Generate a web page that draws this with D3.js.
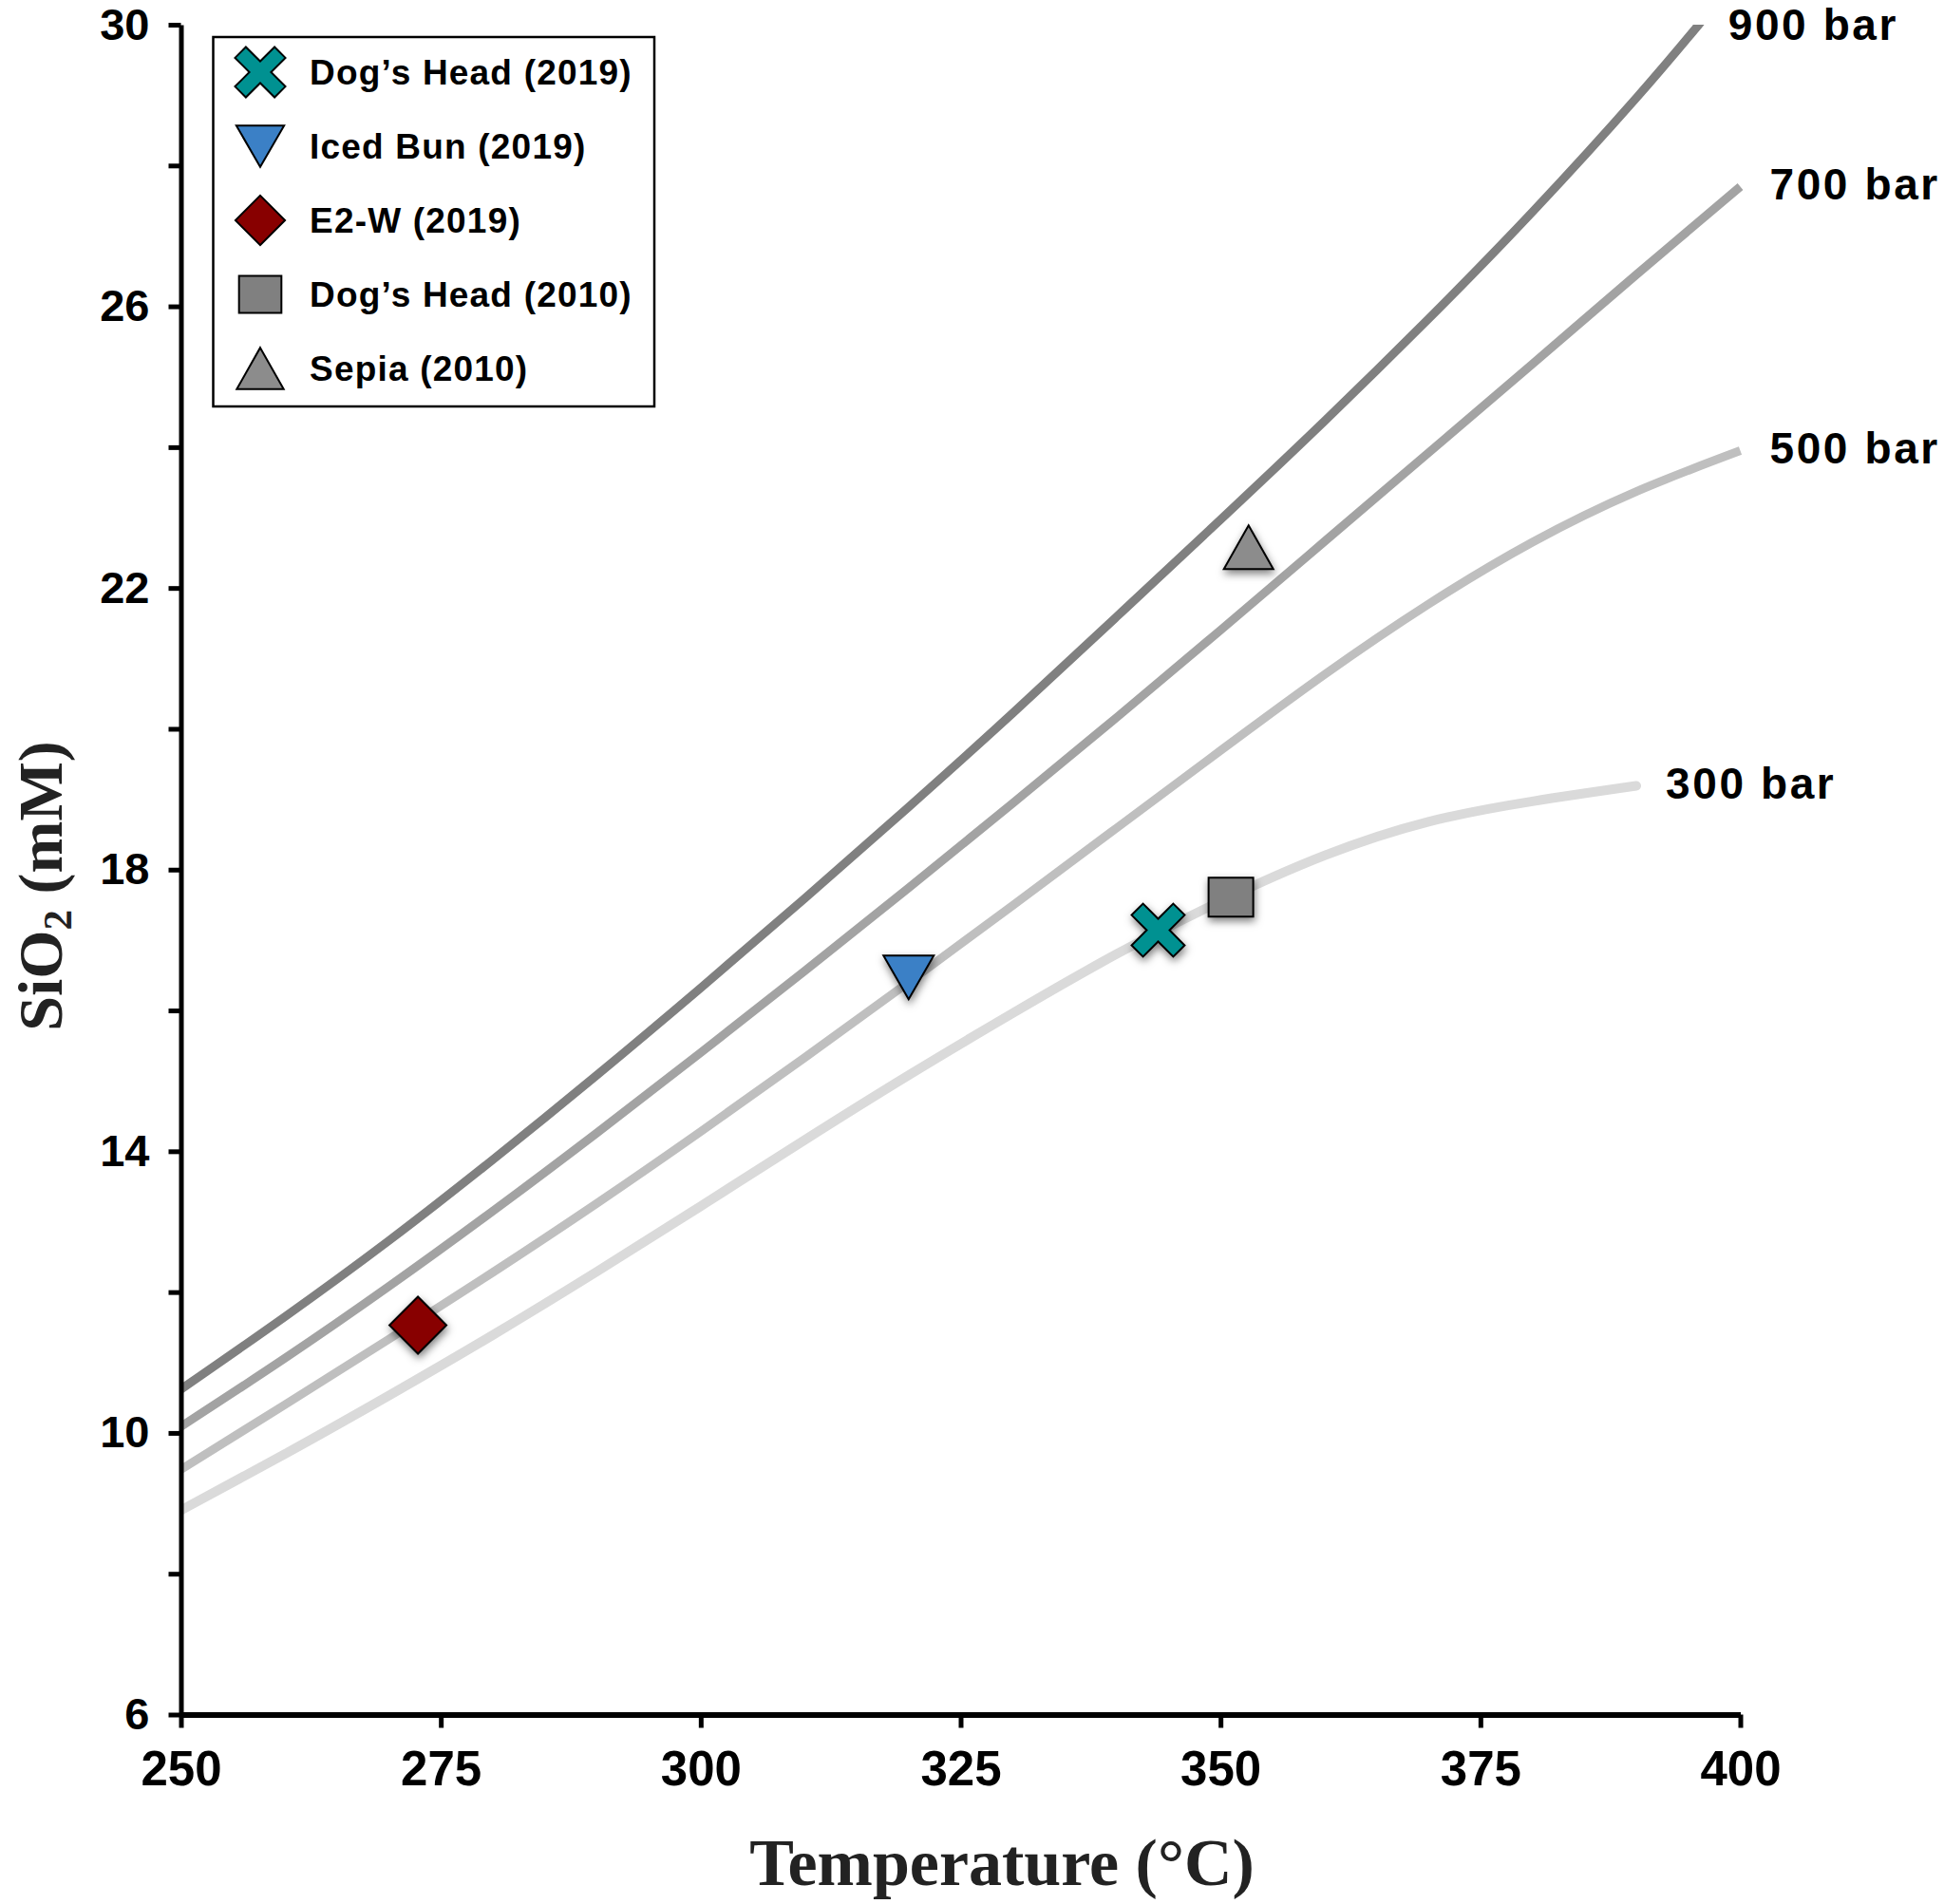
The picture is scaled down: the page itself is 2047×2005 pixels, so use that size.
<!DOCTYPE html>
<html>
<head>
<meta charset="utf-8">
<script src="https://cdn.jsdelivr.net/npm/d3@7"></script>
<style>
  body { margin: 0; background: #fff; }
  svg { display: block; }
</style>
</head>
<body>
<svg id="chart" width="2047" height="2005"></svg>
<script>
// ---- data ----
var xTicks = [250, 275, 300, 325, 350, 375, 400];
var yTicks = [6, 8, 10, 12, 14, 16, 18, 20, 22, 24, 26, 28, 30];
var yTickLabels = [6, 10, 14, 18, 22, 26, 30];

// quartz solubility curves (temperature, SiO2 mM)
var temp900 = [250, 260, 270, 280, 290, 300, 310, 320, 330, 340, 350, 360, 370, 380, 390, 396, 398];
var sio2_900 = [10.62, 11.65, 12.73, 13.88, 15.08, 16.32, 17.59, 18.89, 20.22, 21.59, 22.97, 24.37, 25.82, 27.34, 28.96, 30.0, 30.35];
var temp700 = [250, 260, 270, 280, 290, 300, 310, 320, 330, 340, 350, 360, 370, 380, 390, 400];
var sio2_700 = [10.09, 11.06, 12.08, 13.15, 14.26, 15.4, 16.56, 17.74, 18.94, 20.16, 21.4, 22.66, 23.92, 25.18, 26.45, 27.7];
var temp500 = [250, 260, 270, 280, 290, 300, 310, 320, 330, 340, 350, 360, 370, 380, 390, 400];
var sio2_500 = [9.48, 10.4, 11.33, 12.28, 13.26, 14.28, 15.33, 16.4, 17.49, 18.59, 19.69, 20.77, 21.77, 22.65, 23.37, 23.95];
var temp300 = [250, 260, 270, 280, 290, 300, 310, 320, 330, 340, 350, 360, 370, 380, 390];
var sio2_300 = [8.9, 9.7, 10.53, 11.39, 12.29, 13.22, 14.16, 15.08, 15.96, 16.8, 17.55, 18.2, 18.68, 18.97, 19.19];
var curveNames = ["900 bar", "700 bar", "500 bar", "300 bar"];

// vent fluids
var siteNames = ["Dog\u2019s Head (2019)", "Iced Bun (2019)", "E2-W (2019)", "Dog\u2019s Head (2010)", "Sepia (2010)"];
var siteTemp = [344, 320, 272.8, 351, 352.7];
var siteSiO2 = [17.14, 16.47, 11.53, 17.61, 22.58];

// ---- styles ----
var curveColors = ["#808080", "#a3a3a3", "#bfbfbf", "#dadada"];
var siteShapes = ["x", "tridown", "diamond", "square", "triup"];
var siteColors = ["#009191", "#3b80c6", "#880000", "#808080", "#8c8c8c"];
var sansBold = "'Liberation Sans', Arial, Helvetica, sans-serif";
var serif = "'Liberation Serif', 'Times New Roman', serif";

var svg = d3.select("#chart");

var x = d3.scaleLinear().domain([250, 400]).range([190.5, 1832.5]);
var y = d3.scaleLinear().domain([6, 30]).range([1805.5, 26]);

// drop shadow for the plotted symbols
var defs = svg.append("defs");
defs.append("filter").attr("id", "shadow")
  .attr("x", "-50%").attr("y", "-50%").attr("width", "200%").attr("height", "200%")
  .append("feDropShadow")
  .attr("dx", 1).attr("dy", 4).attr("stdDeviation", 4.5)
  .attr("flood-color", "#000").attr("flood-opacity", 0.5);
defs.append("clipPath").attr("id", "plotClip")
  .append("rect")
  .attr("x", x(250)).attr("y", y(30))
  .attr("width", x(400) - x(250) + 40).attr("height", y(6) - y(30));

// symbol paths, centred on 0,0
function shapePath(kind, s) {
  var pts;
  if (kind === "x") {
    var a = 8.5 * s, L = 31 * s, c = Math.SQRT1_2;
    var plus = [[-a,-L],[a,-L],[a,-a],[L,-a],[L,a],[a,a],[a,L],[-a,L],[-a,a],[-L,a],[-L,-a],[-a,-a]];
    pts = plus.map(function(p) { return [(p[0] - p[1]) * c, (p[0] + p[1]) * c]; });
  } else if (kind === "tridown") {
    pts = [[-26.5*s,-23*s],[26.5*s,-23*s],[0,23*s]];
  } else if (kind === "triup") {
    pts = [[0,-23*s],[26*s,23*s],[-26*s,23*s]];
  } else if (kind === "diamond") {
    pts = [[0,-30*s],[30*s,0],[0,30*s],[-30*s,0]];
  } else {
    pts = [[-23.5*s,-20.5*s],[23.5*s,-20.5*s],[23.5*s,20.5*s],[-23.5*s,20.5*s]];
  }
  return "M" + pts.map(function(p) { return p[0].toFixed(2) + "," + p[1].toFixed(2); }).join("L") + "Z";
}

// ---- curves ----
var curves = [
  {name: curveNames[0], t: temp900, s: sio2_900},
  {name: curveNames[1], t: temp700, s: sio2_700},
  {name: curveNames[2], t: temp500, s: sio2_500},
  {name: curveNames[3], t: temp300, s: sio2_300}
];

var line = d3.line()
  .x(function(d) { return x(d[0]); })
  .y(function(d) { return y(d[1]); })
  .curve(d3.curveNatural);

var curveG = svg.append("g").attr("clip-path", "url(#plotClip)");
// draw lightest first so darker curves sit on top
curves.slice().reverse().forEach(function(c) {
  var i = curves.indexOf(c);
  var pts = c.t.map(function(t, k) { return [t, c.s[k]]; });
  curveG.append("path")
    .attr("d", line(pts))
    .attr("fill", "none")
    .attr("stroke", curveColors[i])
    .attr("stroke-width", i === 3 ? 10 : 9)
    .attr("stroke-linecap", i === 3 ? "round" : "butt");
});

// pressure labels at the right end of each curve
curves.forEach(function(c) {
  var k = c.s.length - 1;
  while (c.s[k] > 30) k--;
  svg.append("text")
    .attr("x", x(c.t[k]) + 31)
    .attr("y", Math.max(y(c.s[k]) - 3, 26))
    .attr("dominant-baseline", "central")
    .style("font-family", sansBold)
    .style("font-weight", "bold")
    .style("font-size", "46px")
    .style("letter-spacing", "2.6px")
    .attr("fill", "#000")
    .text(c.name);
});

// ---- axes ----
var xAxis = svg.append("g")
  .attr("transform", "translate(0," + y(6) + ")")
  .call(d3.axisBottom(x).tickValues(xTicks).tickSize(14).tickSizeOuter(0).tickPadding(24));
xAxis.select(".domain").attr("stroke", "#000").attr("stroke-width", 6);
xAxis.selectAll(".tick line").attr("stroke", "#000").attr("stroke-width", 5);
xAxis.selectAll(".tick text")
  .style("font-family", sansBold).style("font-weight", "bold").style("font-size", "51px")
  .attr("fill", "#000");

var yAxis = svg.append("g")
  .attr("transform", "translate(" + x(250) + ",0)")
  .call(d3.axisLeft(y).tickValues(yTicks).tickSize(13).tickSizeOuter(0).tickPadding(20)
    .tickFormat(function(d) { return yTickLabels.indexOf(d) >= 0 ? d : ""; }));
yAxis.select(".domain").attr("stroke", "#000").attr("stroke-width", 5);
yAxis.selectAll(".tick line").attr("stroke", "#000").attr("stroke-width", 5);
yAxis.selectAll(".tick text")
  .style("font-family", sansBold).style("font-weight", "bold").style("font-size", "47px")
  .attr("fill", "#000");

// axis titles
svg.append("text")
  .attr("x", 1055).attr("y", 1985)
  .attr("text-anchor", "middle")
  .style("font-family", serif).style("font-weight", "bold").style("font-size", "70px")
  .attr("fill", "#222")
  .text("Temperature (\u00b0C)");

var yTitle = svg.append("text")
  .attr("transform", "translate(65,933) rotate(-90)")
  .attr("text-anchor", "middle")
  .style("font-family", serif).style("font-weight", "bold").style("font-size", "66px")
  .attr("fill", "#222");
yTitle.append("tspan").text("SiO");
yTitle.append("tspan").attr("dy", 10).style("font-size", "43px").text("2");
yTitle.append("tspan").attr("dy", -10).text(" (mM)");

// ---- vent fluid symbols ----
svg.append("g").selectAll("path")
  .data(siteNames)
  .join("path")
  .attr("transform", function(d, i) { return "translate(" + x(siteTemp[i]) + "," + y(siteSiO2[i]) + ")"; })
  .attr("d", function(d, i) { return shapePath(siteShapes[i], 1); })
  .attr("fill", function(d, i) { return siteColors[i]; })
  .attr("stroke", "#000")
  .attr("stroke-width", 2)
  .attr("stroke-linejoin", "miter")
  .attr("filter", "url(#shadow)");

// ---- legend ----
var legend = svg.append("g");
legend.append("rect")
  .attr("x", 224.5).attr("y", 39)
  .attr("width", 464.5).attr("height", 389)
  .attr("fill", "#fff").attr("stroke", "#000").attr("stroke-width", 2.5);

var items = legend.selectAll("g.item")
  .data(siteNames)
  .join("g")
  .attr("class", "item")
  .attr("transform", function(d, i) { return "translate(0," + (76 + i * 78) + ")"; });

items.append("path")
  .attr("transform", "translate(274,0)")
  .attr("d", function(d, i) { return shapePath(siteShapes[i], siteShapes[i] === "diamond" ? 0.87 : 0.95); })
  .attr("fill", function(d, i) { return siteColors[i]; })
  .attr("stroke", "#000")
  .attr("stroke-width", 2);

items.append("text")
  .attr("x", 326)
  .attr("dominant-baseline", "central")
  .style("font-family", sansBold).style("font-weight", "bold")
  .style("font-size", "37px").style("letter-spacing", "1.2px")
  .attr("fill", "#000")
  .text(function(d) { return d; });
</script>
</body>
</html>
